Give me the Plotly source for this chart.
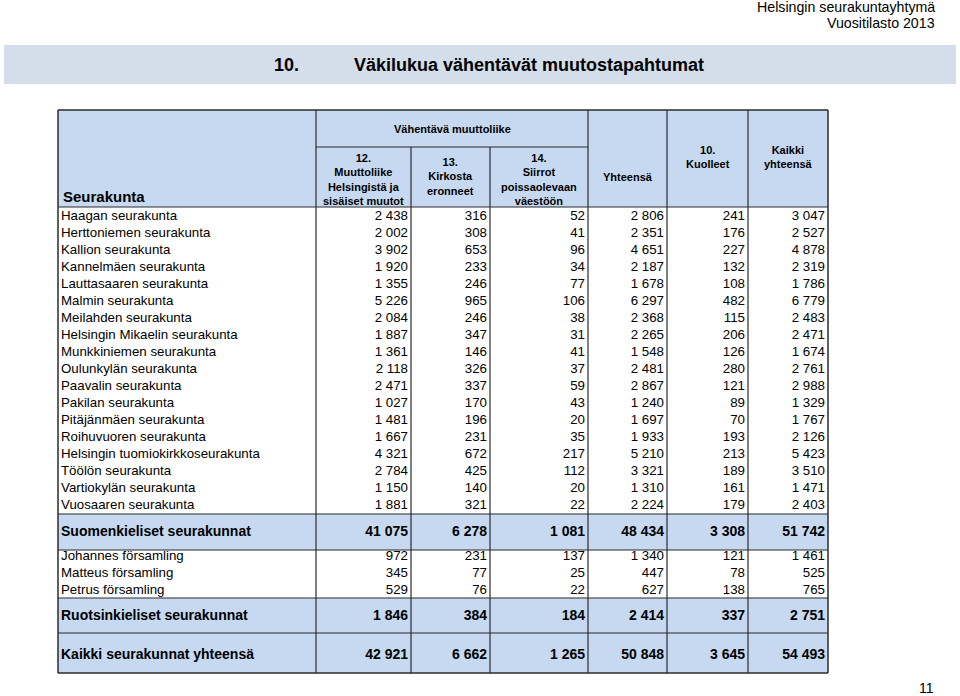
import plotly.graph_objects as go

# ---------------- data ----------------
fi_names = [
    "Haagan seurakunta", "Herttoniemen seurakunta", "Kallion seurakunta",
    "Kannelmäen seurakunta", "Lauttasaaren seurakunta", "Malmin seurakunta",
    "Meilahden seurakunta", "Helsingin Mikaelin seurakunta", "Munkkiniemen seurakunta",
    "Oulunkylän seurakunta", "Paavalin seurakunta", "Pakilan seurakunta",
    "Pitäjänmäen seurakunta", "Roihuvuoren seurakunta", "Helsingin tuomiokirkkoseurakunta",
    "Töölön seurakunta", "Vartiokylän seurakunta", "Vuosaaren seurakunta",
]
fi_muutto = [2438, 2002, 3902, 1920, 1355, 5226, 2084, 1887, 1361, 2118, 2471, 1027, 1481, 1667, 4321, 2784, 1150, 1881]
fi_eronneet = [316, 308, 653, 233, 246, 965, 246, 347, 146, 326, 337, 170, 196, 231, 672, 425, 140, 321]
fi_siirrot = [52, 41, 96, 34, 77, 106, 38, 31, 41, 37, 59, 43, 20, 35, 217, 112, 20, 22]
fi_yhteensa = [2806, 2351, 4651, 2187, 1678, 6297, 2368, 2265, 1548, 2481, 2867, 1240, 1697, 1933, 5210, 3321, 1310, 2224]
fi_kuolleet = [241, 176, 227, 132, 108, 482, 115, 206, 126, 280, 121, 89, 70, 193, 213, 189, 161, 179]
fi_kaikki = [3047, 2527, 4878, 2319, 1786, 6779, 2483, 2471, 1674, 2761, 2988, 1329, 1767, 2126, 5423, 3510, 1471, 2403]

fi_total_label = "Suomenkieliset seurakunnat"
fi_total = [41075, 6278, 1081, 48434, 3308, 51742]

sv_names = ["Johannes församling", "Matteus församling", "Petrus församling"]
sv_muutto = [972, 345, 529]
sv_eronneet = [231, 77, 76]
sv_siirrot = [137, 25, 22]
sv_yhteensa = [1340, 447, 627]
sv_kuolleet = [121, 78, 138]
sv_kaikki = [1461, 525, 765]

sv_total_label = "Ruotsinkieliset seurakunnat"
sv_total = [1846, 384, 184, 2414, 337, 2751]

all_total_label = "Kaikki seurakunnat yhteensä"
all_total = [42921, 6662, 1265, 50848, 3645, 54493]

col_headers = [
    "12.<br>Muuttoliike<br>Helsingistä ja<br>sisäiset muutot",
    "13.<br>Kirkosta<br>eronneet",
    "14.<br>Siirrot<br>poissaolevaan<br>väestöön",
    "Yhteensä",
    "10.<br>Kuolleet",
    "Kaikki<br>yhteensä",
]
group_header = "Vähentävä muuttoliike"
first_header = "Seurakunta"
title_num = "10."
title_text = "Väkilukua vähentävät muutostapahtumat"
corner_lines = ["Helsingin seurakuntayhtymä", "Vuositilasto 2013"]
page_no = "11"

# ---------------- layout geometry ----------------
W, H = 960, 696
edges = [58, 316, 411, 490, 588, 667, 748, 828]
TOP, GROUP_BOT, HEAD_BOT = 110, 147, 207
ROW0, STEP = 217, 17
FI_BAND = (514, 550)
SV_BAND = (598, 633)
ALL_BAND = (633, 673)
HEAD_FILL = "#C6D9F0"
LINE = "#2b2b2b"
FONT = "Liberation Sans, Arial, sans-serif"

def fmt(v):
    return f"{v:,}".replace(",", " ")

fi_cols = [fi_muutto, fi_eronneet, fi_siirrot, fi_yhteensa, fi_kuolleet, fi_kaikki]
sv_cols = [sv_muutto, sv_eronneet, sv_siirrot, sv_yhteensa, sv_kuolleet, sv_kaikki]

rows = []  # (label, values, y, bold)
for i, n in enumerate(fi_names):
    rows.append((n, [c[i] for c in fi_cols], ROW0 + i * STEP, False))
rows.append((fi_total_label, fi_total, (FI_BAND[0] + FI_BAND[1]) / 2, True))
sv0 = 557
for i, n in enumerate(sv_names):
    rows.append((n, [c[i] for c in sv_cols], sv0 + i * STEP, False))
rows.append((sv_total_label, sv_total, (SV_BAND[0] + SV_BAND[1]) / 2 + 1, True))
rows.append((all_total_label, all_total, (ALL_BAND[0] + ALL_BAND[1]) / 2 + 2.5, True))

fig = go.Figure()

def wrap(t, b):
    return f"<b>{t}</b>" if b else t

sizes = [14 if r[3] else 13.3 for r in rows]
# labels column
fig.add_trace(go.Scatter(
    x=[edges[0] + 3] * len(rows), y=[r[2] for r in rows],
    text=[wrap(r[0], r[3]) for r in rows],
    mode="text", textposition="middle right",
    textfont=dict(family=FONT, size=sizes, color="#000"),
    marker=dict(size=0), hoverinfo="skip", showlegend=False,
))
# value columns
for j in range(6):
    fig.add_trace(go.Scatter(
        x=[edges[j + 2] - 3] * len(rows), y=[r[2] for r in rows],
        text=[wrap(fmt(r[1][j]), r[3]) for r in rows],
        mode="text", textposition="middle left",
        textfont=dict(family=FONT, size=sizes, color="#000"),
        marker=dict(size=0), hoverinfo="skip", showlegend=False,
    ))

shapes = []
# title band
shapes.append(dict(type="rect", xref="x", yref="y", x0=4, x1=956, y0=45, y1=84,
                   fillcolor="#D3DEEA", line=dict(width=0), layer="below"))
# header and band fills
for (y0, y1) in [(TOP, HEAD_BOT), FI_BAND, SV_BAND, ALL_BAND]:
    shapes.append(dict(type="rect", xref="x", yref="y", x0=edges[0], x1=edges[-1], y0=y0, y1=y1,
                       fillcolor=HEAD_FILL, line=dict(width=0), layer="below"))

def hline(y, x0, x1, w=1.2):
    shapes.append(dict(type="line", xref="x", yref="y", x0=x0, x1=x1, y0=y, y1=y,
                       line=dict(color=LINE, width=w)))

def vline(x, y0, y1, w=1.2):
    shapes.append(dict(type="line", xref="x", yref="y", x0=x, x1=x, y0=y0, y1=y1,
                       line=dict(color=LINE, width=w)))

hline(TOP, edges[0], edges[-1], 1.5)
hline(GROUP_BOT, edges[1], edges[4])
for y in [HEAD_BOT, FI_BAND[0], FI_BAND[1], SV_BAND[0], SV_BAND[1]]:
    hline(y, edges[0], edges[-1])
hline(ALL_BAND[1], edges[0], edges[-1], 1.5)
vline(edges[0], TOP, ALL_BAND[1], 1.5)
vline(edges[-1], TOP, ALL_BAND[1], 1.5)
for k in [1, 4, 5, 6]:
    vline(edges[k], TOP, ALL_BAND[1])
for k in [2, 3]:
    vline(edges[k], GROUP_BOT, ALL_BAND[1])

annotations = []
HFONT = dict(family=FONT, size=11, color="#000")
annotations.append(dict(x=edges[0] + 3, y=196, text="<b>" + first_header + "</b>", xanchor="left",
                        yanchor="middle", showarrow=False, font=dict(family=FONT, size=15, color="#000")))
annotations.append(dict(x=(edges[1] + edges[4]) / 2, y=129, text="<b>" + group_header + "</b>",
                        xanchor="center", yanchor="middle", showarrow=False, font=HFONT))
head_pos = [
    (1, 179), (2, 176), (3, 179), (4, 177), (5, 157), (6, 157),
]
for (k, yc), txt in zip(head_pos, col_headers):
    annotations.append(dict(x=(edges[k] + edges[k + 1]) / 2, y=yc, text="<b>" + txt + "</b>",
                            xanchor="center", yanchor="middle", showarrow=False, font=HFONT,
                            align="center"))
# title
TFONT = dict(family=FONT, size=18, color="#000")
annotations.append(dict(x=272, y=65, text="<b>" + title_num + "</b>", xanchor="left", yanchor="middle",
                        showarrow=False, font=TFONT))
annotations.append(dict(x=352, y=65, text="<b>" + title_text + "</b>", xanchor="left", yanchor="middle",
                        showarrow=False, font=TFONT))
for yy, line in zip([7, 23], corner_lines):
    annotations.append(dict(x=937, y=yy, text=line, xanchor="right", yanchor="middle",
                            showarrow=False, font=dict(family=FONT, size=14.2, color="#000")))
annotations.append(dict(x=926, y=688, text=page_no, xanchor="center", yanchor="middle", showarrow=False,
                        font=dict(family=FONT, size=14, color="#000")))

fig.update_layout(
    width=W, height=H, margin=dict(l=0, r=0, t=0, b=0, pad=0),
    paper_bgcolor="white", plot_bgcolor="white",
    xaxis=dict(range=[0, W], visible=False, fixedrange=True),
    yaxis=dict(range=[H, 0], visible=False, fixedrange=True),
    shapes=shapes, annotations=annotations, showlegend=False,
)
fig.write_html("out.html", config={"displayModeBar": False},
               post_script="document.body.style.margin='0';document.body.style.overflow='hidden';")
